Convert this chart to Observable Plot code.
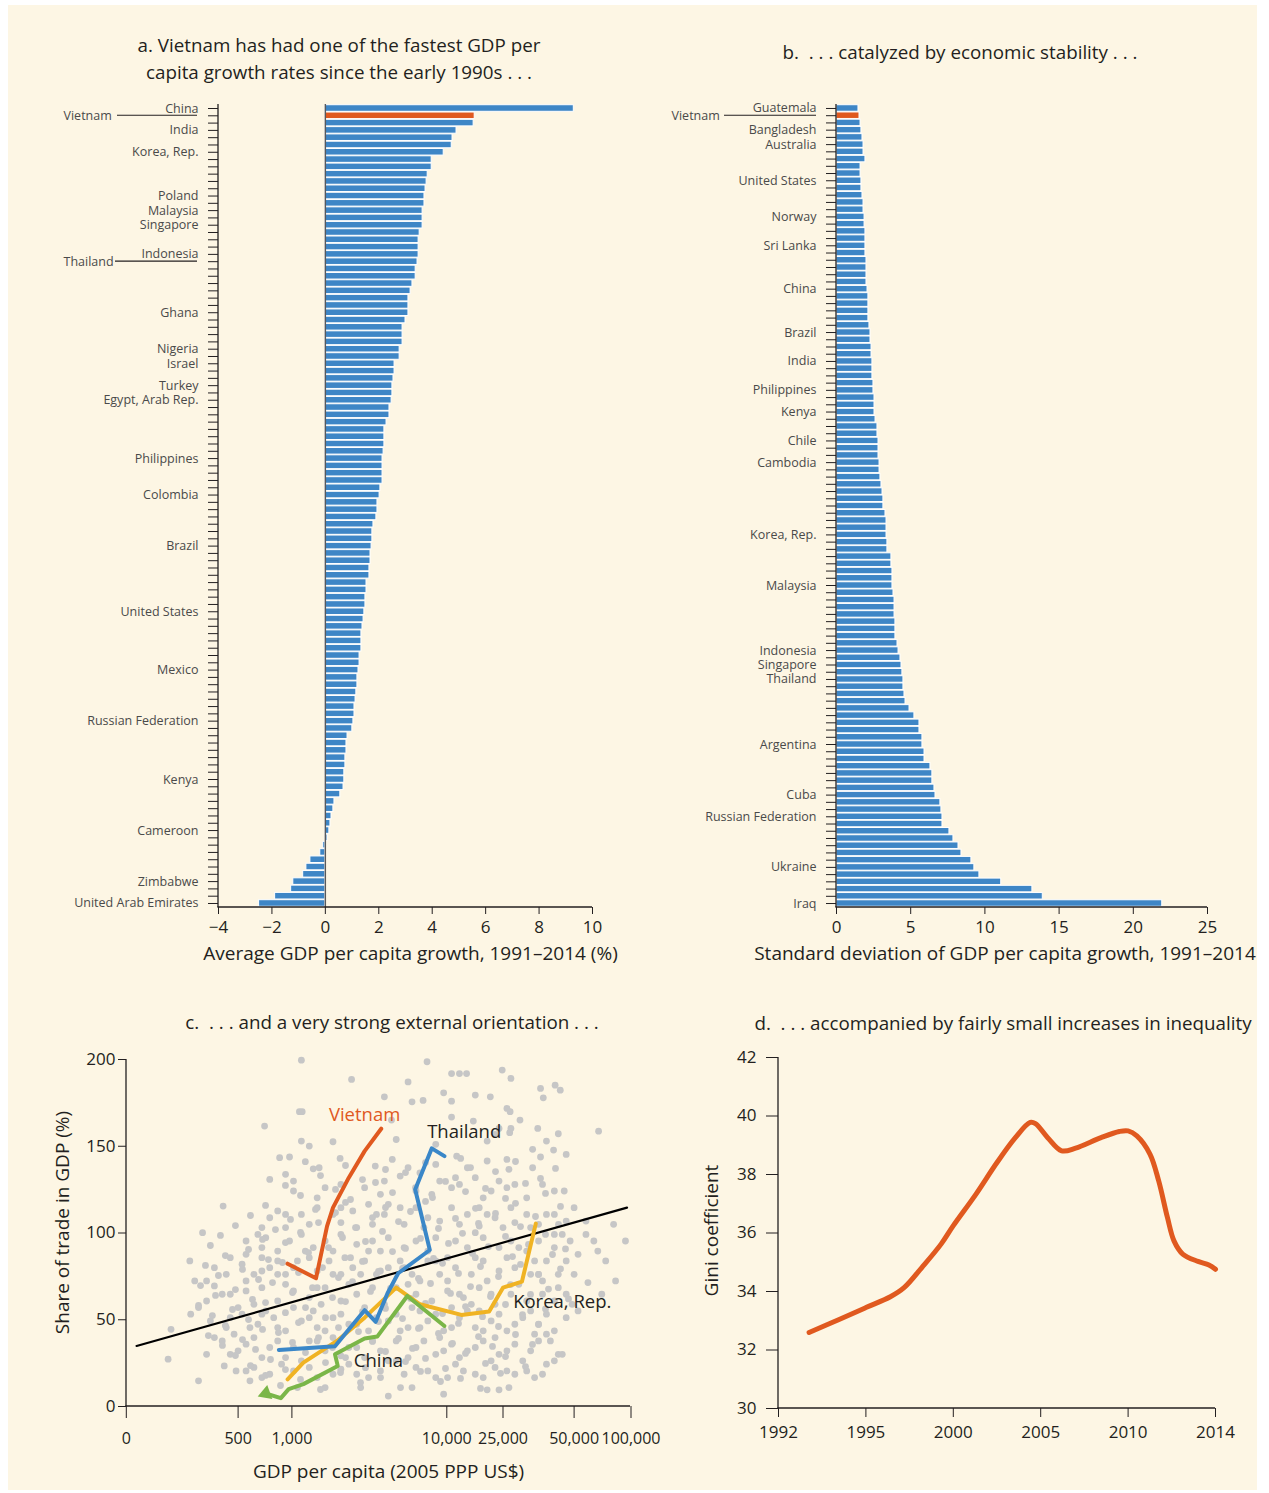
<!DOCTYPE html>
<html><head><meta charset="utf-8">
<script src="https://cdn.jsdelivr.net/npm/d3@7"></script>
<script src="https://cdn.jsdelivr.net/npm/@observablehq/plot@0.6"></script>
<style>
body{margin:0;background:#fff;font-family:"Open Sans",sans-serif;}
#page{position:relative;width:1269px;height:1493px;overflow:hidden;}
#bg{position:absolute;left:8px;top:5px;width:1249px;height:1485px;background:#fdf6e4;}
.title{position:absolute;text-align:center;font-size:18.8px;line-height:27px;color:#231f20;white-space:nowrap;}
.panel{position:absolute;}
.panel svg{overflow:visible;max-width:none;}
</style></head>
<body><div id="page"><div id="bg"></div>
<div class="title" style="left:89px;top:31.5px;width:500px">a. Vietnam has had one of the fastest GDP per<br>capita growth rates since the early 1990s . . .</div>
<div class="title" style="left:710px;top:38.5px;width:500px">b. &nbsp;. . . catalyzed by economic stability . . .</div>
<div class="title" style="left:142px;top:1008.5px;width:500px">c. &nbsp;. . . and a very strong external orientation . . .</div>
<div class="title" style="left:743px;top:1009.5px;width:520px">d. &nbsp;. . . accompanied by fairly small increases in inequality</div>
<div class="panel" id="pa" style="left:0px;top:90px"></div>
<div class="panel" id="pb" style="left:640px;top:90px"></div>
<div class="panel" id="pc" style="left:0px;top:1040px"></div>
<div class="panel" id="pd" style="left:640px;top:1040px"></div>
</div>
<script>
// ---------- DATA ----------
// Panel a: average GDP per capita growth 1991-2014 (%), 110 countries ranked
const growthCountries = ["China","Vietnam","","India","","","Korea, Rep.","","","","","","Poland","","Malaysia","","Singapore","","","","Indonesia","Thailand","","","","","","","Ghana","","","","","Nigeria","","Israel","","","Turkey","","Egypt, Arab Rep.","","","","","","","","Philippines","","","","","Colombia","","","","","","","Brazil","","","","","","","","","United States","","","","","","","","Mexico","","","","","","","Russian Federation","","","","","","","","Kenya","","","","","","","Cameroon","","","","","","","Zimbabwe","","","United Arab Emirates"];
const growthValues = [9.3,5.59,5.55,4.91,4.76,4.73,4.43,3.98,3.98,3.83,3.79,3.75,3.71,3.71,3.64,3.64,3.64,3.53,3.49,3.49,3.49,3.45,3.38,3.38,3.26,3.19,3.11,3.11,3.11,3.0,2.89,2.89,2.89,2.78,2.78,2.59,2.59,2.55,2.51,2.51,2.48,2.4,2.4,2.29,2.21,2.21,2.21,2.18,2.14,2.14,2.14,2.14,2.06,2.03,1.95,1.95,1.91,1.8,1.76,1.76,1.73,1.69,1.69,1.65,1.65,1.54,1.54,1.5,1.5,1.46,1.43,1.39,1.35,1.35,1.35,1.28,1.28,1.24,1.2,1.2,1.16,1.13,1.09,1.09,1.05,1.01,0.83,0.79,0.79,0.75,0.75,0.71,0.71,0.68,0.56,0.34,0.3,0.23,0.19,0.15,0.08,-0.08,-0.19,-0.56,-0.71,-0.83,-1.2,-1.28,-1.88,-2.48];
const growthTicks = [-4,-2,0,2,4,6,8,10];

// Panel b: standard deviation of GDP per capita growth 1991-2014, 111 countries ranked
const volCountries = ["Guatemala","Vietnam","","Bangladesh","","Australia","","","","","United States","","","","","Norway","","","","Sri Lanka","","","","","","China","","","","","","Brazil","","","","India","","","","Philippines","","","Kenya","","","","Chile","","","Cambodia","","","","","","","","","","Korea, Rep.","","","","","","","Malaysia","","","","","","","","","Indonesia","","Singapore","","Thailand","","","","","","","","","Argentina","","","","","","","Cuba","","","Russian Federation","","","","","","","Ukraine","","","","","Iraq"];
const volValues = [1.48,1.55,1.62,1.68,1.75,1.82,1.82,1.95,1.62,1.62,1.68,1.68,1.75,1.82,1.82,1.89,1.89,1.95,1.95,1.95,1.95,2.02,2.02,2.02,2.02,2.09,2.15,2.15,2.15,2.15,2.22,2.29,2.29,2.36,2.36,2.42,2.42,2.42,2.49,2.49,2.56,2.56,2.56,2.63,2.76,2.76,2.83,2.83,2.83,2.9,2.9,2.96,3.03,3.1,3.16,3.16,3.3,3.37,3.37,3.37,3.43,3.43,3.7,3.7,3.77,3.77,3.77,3.84,3.91,3.91,3.91,3.97,3.97,3.97,4.11,4.18,4.31,4.38,4.44,4.51,4.51,4.58,4.65,4.92,5.25,5.59,5.59,5.79,5.79,5.93,5.93,6.33,6.46,6.46,6.6,6.67,7.0,7.07,7.14,7.14,7.61,7.88,8.22,8.42,9.09,9.29,9.63,11.1,13.2,13.9,21.95];
const volTicks = [0,5,10,15,20,25];

// Panel c: trade share (% of GDP) vs GDP per capita (2005 PPP US$)
const gdpTicks = [0,500,1000,10000,25000,50000,100000];
const tradeTicks = [0,50,100,150,200];
// country-years: outer cloud
const scatterGdp = [
1551,8852,11267,13379,15280,24789,27778,4467,7750,
43334,45139,38194,9817,17603,21616,6373,39167,8622,7980,11267,26389,
1436,1597,27500,30972,6786,17075,11267,746,23939,37222,27778,
71527,44444,22883,27361,7061,1551,3388,2010,40278,35417,42778,20771,9357,
886,978,1781,3801,2240,2584,5844,6832,7750,12640,13696,20771,26389,27083,38194,47222,35417,15491,9357,8439,
941,1092,6373,7291,9587,11267,13379,17603,21827,23939,29167,38889,43056,46528,794,1092,2929,5225,6143,8209,19715,33333,2469,3847,26389,9128,
433,868,794,1551,2469,3388,4536,5454,6373,7291,8898,11267,15491,18659,22883,27778,33333,37500,43056,47222,60417,50000,84722,18659,7521,5684,3847,2010,941,721,8209,9587,29167,6602,
341,574,757,978,1551,2240,2929,3847,4766,5684,6602,7521,8209,9357,12323,15491,19715,23939,27778,33333,37500,43056,48611,60417,70833,95139,3388,6143,8898,17603,868,684,
284,306,537,647,794,941,1321,2469,3158,3847,4536,5225,5913,6602,7980,8898,9587,12323,16547,19715,23939,29167,34722,40278,44444,50000,62153,86458,447,394,868,2010,7291,10211,26389,37500,721,
465,574,721,868,1092,2010,2929,3847,4766,5684,6373,8209,9128,10211,14435,18659,22883,27778,33333,38889,44444,49306,359,323,7750,16547,30556,43056,647,941,4306,
200,288,376,447,537,684,831,941,1551,2469,3388,4306,5454,6602,7750,8898,9817,13379,17603,21827,26389,31944,37500,43056,47222,53472,8439,18659,34722,757,2240,
429,500,647,794,941,2010,2929,3847,4766,6143,7061,8209,9357,11267,15491,19715,23939,29167,34722,40278,41667,44444,9587,22883,
187,438,491,647,794,1092,2469,3847,4766,6143,7061,8209,9357,12323,17603,22883,29167,33333,38889,43056,45833,323,610,1321,2929,4995,7980,20771,23939,27083,6602,9817,
574,721,868,1092,1781,2469,3388,4077,4995,5454,6143,7061,7521,8439,9357,10211,13379,17603,20771,21827,25000,30556,36111,38889,43056,47222,53472,47222,
500,610,721,868,1092,2010,2699,2929,3847,4766,5225,5913,7061,7291,7980,8439,9357,11267,11267,15491,19715,23939,29167,36111,40278,
465,574,721,868,1092,1551,2469,3388,4306,5225,5684,6602,7750,8668,9817,13379,17603,21827,26389,31944,37500,
574,721,904,2010,3388,4306,5454,7521,8898,10211,14435,19715,26389,36111,40278,
721,574,465,394,429,359,465,394,359,482,
941,3847,4766,5913,8668,13379,20771,34722,40278,45833,67361,77778,74306];
const scatterTrade = [
199.6,198.7,191.9,191.9,191.9,193.9,189.1,188.5,187.1,
185.2,182.3,183.3,180.8,179.5,178.5,178.5,177.9,176.4,175.6,176,171.8,
169.9,169.9,169.9,165.1,165.1,164.5,166.8,161.6,160.3,160.3,160.3,
158.7,157.2,156.8,157.8,153.9,153,152.6,150.1,153,148.2,147.8,153,151.1,
143.4,143.8,141.1,143,137,137.6,138.6,142.4,137.6,144.3,143,141.5,142.4,136.7,143.8,145.3,137.6,137.6,139.5,134.7,
133.8,129.9,129.9,132.8,129.9,126.1,128,131.9,124.2,129.9,128,128,124.2,124.2,130.9,124.2,126.1,126.1,122.3,124.2,120.3,120.3,120.3,128,126.1,122.3,
115.5,112.7,108.8,110.7,114.6,110.7,112.7,116.5,110.7,114.6,108.8,114.6,110.7,114.6,108.8,114.6,110.7,105,110.7,106.9,106.9,114.6,105,104,105,105,106,105,103.1,103.1,114.6,106.9,106,116.5,
100.2,95.4,97.3,95.4,99.2,91.6,95.4,99.2,93.5,95.4,97.3,91.6,95.4,97.3,95.4,91.6,97.3,91.6,95.4,89.6,95.4,91.6,95.4,99.2,89.6,95.4,89.6,89.6,89.6,100.2,89.6,99.2,
83.9,72.4,82,76.2,80,76.2,83.9,78.1,83.9,76.2,80,83.9,76.2,80,76.2,83.9,76.2,80,76.2,83.9,78.1,80,76.2,83.9,76.2,76.2,71.4,72.4,76.2,69.5,83.9,85.8,83.9,85.8,85.8,76.2,85.8,
64.7,66.6,68.5,60.8,66.6,62.8,68.5,60.8,64.7,68.5,58.9,64.7,60.8,66.6,62.8,68.5,58.9,64.7,60.8,64.7,68.5,58.9,60.8,57,70.4,58.9,70.4,60.8,58.9,70.4,70.4,
44.5,53.2,49.3,45.5,53.2,47.4,51.2,43.6,49.3,45.5,51.2,47.4,43.6,49.3,45.5,49.3,43.6,51.2,45.5,49.3,43.6,51.2,47.4,43.6,51.2,55.1,55.1,55.1,55.1,55.1,55.1,
37.8,32.1,39.7,34,28.2,37.8,32.1,29.2,34,32.1,37.8,34,30.1,35.9,32.1,37.8,30.1,35.9,32.1,41.7,37.8,30.1,39.7,39.7,
27.3,23.4,20.5,22.5,18.6,20.5,16.7,21.5,18.6,20.5,26.3,22.5,16.7,24.4,18.6,22.5,18.6,20.5,18.6,26.3,30.1,14.8,14.8,10.9,10.9,10.9,10.9,9.6,9.6,10.9,6,7.1,
87.7,91.6,76.2,80,89.6,68.5,76.2,85.8,76.2,89.6,78.1,68.5,80,72.4,83.9,72.4,64.7,85.8,72.4,64.7,103.1,91.6,83.9,72.4,99.2,83.9,87.7,64.7,
57,45.5,53.2,45.5,57,51.2,58.9,43.6,53.2,47.4,57,51.2,53.2,43.6,57,45.5,53.2,57,45.5,55.1,43.6,53.2,47.4,41.7,53.2,
30.1,35.9,28.2,37.8,34,26.3,37.8,39.7,34,28.2,37.8,26.3,28.2,37.8,32.1,28.2,34,26.3,32.1,26.3,37.8,
20.5,16.7,24.4,22.5,18.6,24.4,16.7,18.6,20.5,16.7,20.5,16.7,20.5,16.7,24.4,
78.1,72.4,85.8,80,64.7,72.4,51.2,39.7,30.1,41.7,
110.7,114.6,103.1,110.7,103.1,105,110.7,103.1,110.7,99.2,95.4,83.9,64.7];
// country-years: dense core of the cloud
const coreGdp = [
4114,6438,8762,16326,29395,43459,
2662,5102,7600,12322,22998,38185,
940,3533,5857,8181,9924,20329,32911,
1500,4405,6845,9169,14991,25879,39943,
755,2371,4114,6438,8762,17660,29395,45217,
615,987,3533,5683,7891,12322,22998,36427,
488,847,2545,4695,7193,9517,18461,31153,44514,
421,727,1500,3940,6264,8472,14190,25879,39943,
376,597,940,3126,5276,7600,10454,21130,33966,46975,
443,782,1964,4405,6845,9227,16859,28340,42404,
354,541,912,2778,5102,7426,9750,18995,31153,45217,
412,690,1383,3707,6031,8355,13123,23799,37482,
332,488,820,2197,4521,6729,9053,16326,27637,40998,
399,634,1035,3359,5567,7891,10988,21664,34669,48030,
323,475,755,1790,4114,6438,8762,14991,25879,39943,
385,597,940,2952,5102,7426,9750,19528,31856,
443,727,1383,3707,6031,8355,13123,23799,37482,
367,541,875,2545,4869,7193,9517,18461,29395,
430,662,1035,3359,5683,8007,11521,22197,35372,
488,801,1790,4114,6438,8762,14991,25879,
615,940,2952,5276,7600,9924,20329,32911,
755,1500,3824,6148,8472,13657,24333,
894,2662,4986,7310,9634,18995];
const coreTrade = [
138.9,136.6,140.6,137.7,141.2,137.2,
133.1,130.8,134.8,131.9,135.4,131.4,
127.4,125.1,129.1,126.2,129.7,125.7,128.6,
121.6,119.3,123.3,120.4,123.9,119.9,122.8,
115.9,113.6,117.6,114.7,118.2,114.2,117.1,115.3,
110.1,107.8,111.8,108.9,112.4,108.4,111.3,109.5,
104.3,102,106,103.1,106.6,102.6,105.5,103.7,104.9,
98.6,96.3,100.3,97.4,100.9,96.9,99.8,98,99.2,
92.8,90.5,94.5,91.6,95.1,91.1,94,92.2,93.4,90.8,
87,84.7,88.7,85.8,89.3,85.3,88.2,86.4,87.6,
81.3,79,83,80.1,83.6,79.6,82.5,80.7,81.9,79.3,
75.5,73.2,77.2,74.3,77.8,73.8,76.7,74.9,76.1,
69.7,67.4,71.4,68.5,72,68,70.9,69.1,70.3,67.7,
64,61.7,65.7,62.8,66.3,62.3,65.2,63.4,64.6,62,
58.2,55.9,59.9,57,60.5,56.5,59.4,57.6,58.8,56.2,
52.4,50.1,54.1,51.2,54.7,50.7,53.6,51.8,53,
46.7,44.4,48.4,45.5,49,45,47.9,46.1,47.3,
40.9,38.6,42.6,39.7,43.2,39.2,42.1,40.3,41.5,
35.2,32.9,36.9,34,37.5,33.5,36.4,34.6,35.8,
29.4,27.1,31.1,28.2,31.7,27.7,30.6,28.8,
23.6,21.3,25.3,22.4,25.9,21.9,24.8,23,
17.9,15.6,19.6,16.7,20.2,16.2,19.1,
12.1,9.8,13.8,10.9,14.4,10.4];
const fitGdp = [46, 96500];
const fitTrade = [34.9, 114.6];
const vietnamGdp = [960,2400,3043,3388,4306,5225,6189];
const vietnamTrade = [82.3,73.9,104,114.6,131.9,147.2,160.1];
const thailandGdp = [879,3503,5225,5868,6556,7176,9013,8164,9128,9863];
const thailandTrade = [32.6,34.7,55.5,48.8,65.3,76.8,90.2,125.1,148.8,144.3];
const koreaGdp = [960,1666,3617,5225,7061,8439,13907,21299,25000,31667,36529];
const koreaTrade = [15.7,25.3,37.8,51.2,68.5,58.9,52.8,54.7,68.5,72,105.4];
const chinaGdp = [757,897,970,1666,3663,3503,5225,5959,7704,9863];
const chinaTrade = [7.5,4.8,10,12.9,23.4,30.1,39.2,40.3,63.7,46.4];
const seriesNames = ["Vietnam","Thailand","Korea, Rep.","China"];
const seriesLabelGdp = [5225,14646,45835,6028];
const seriesLabelTrade = [168,158.3,59.9,25.9];

// Panel d: Gini coefficient
const giniTicks = [1992,1995,2000,2005,2010,2014];
const giniYears = [1993.05,1994.1,1995.0,1996.4,1997.2,1998.2,1999.3,2000.0,2001.3,2002.5,2003.55,2004.4,2004.7,2005.4,2006.2,2007.0,2008.45,2009.5,2010.0,2010.4,2011.0,2011.4,2011.8,2012.1,2012.5,2013.2,2013.7,2014.0];
const giniValues = [32.6,33.05,33.45,33.82,34.14,34.82,35.62,36.25,37.33,38.41,39.26,39.78,39.74,39.26,38.81,38.9,39.26,39.47,39.49,39.32,38.7,37.78,36.53,35.73,35.28,35.03,34.91,34.76];
const giniAxisTicks = [30,32,34,36,38,40,42];

// ---------- STYLE ----------
const BLUE = "#3e86c6", ORANGE = "#e0591f", INK = "#231f20", LABEL = "#4a4a4a";
const GREEN = "#7ab648", YELLOW = "#f0b323", TBLUE = "#3a87c8";
const FONT = "Open Sans";
const SVGNS = "http://www.w3.org/2000/svg";
function svgLine(x1, y1, x2, y2, stroke, w) {
  const l = document.createElementNS(SVGNS, "line");
  l.setAttribute("x1", x1); l.setAttribute("y1", y1);
  l.setAttribute("x2", x2); l.setAttribute("y2", y2);
  l.setAttribute("stroke", stroke); l.setAttribute("stroke-width", w);
  return l;
}
const frameLines = (sides, w = 1.3) => (index, scales, values, dims) => {
  const {width, height, marginTop, marginRight, marginBottom, marginLeft} = dims;
  const g = document.createElementNS(SVGNS, "g");
  const L = marginLeft, R = width - marginRight, T = marginTop, B = height - marginBottom;
  if (sides.includes("left")) g.appendChild(svgLine(L, T, L, B, INK, w));
  if (sides.includes("bottom")) g.appendChild(svgLine(L - w / 2, B, R, B, INK, w));
  return g;
};
const leaders = (rows, from, to) => (index, scales, values, dims) => {
  const y = scales.y;
  const bw = typeof y.bandwidth === "function" ? y.bandwidth() : (y.bandwidth || 0);
  const g = document.createElementNS(SVGNS, "g");
  for (const r of rows) {
    const yy = y(r) + bw / 2;
    g.appendChild(svgLine(dims.marginLeft + from, yy, dims.marginLeft + to, yy, INK, 1.1));
  }
  return g;
};
const baseStyle = {background: "transparent", fontFamily: FONT, color: INK, overflow: "visible"};

// ---------- PANEL A ----------
{
  const data = growthValues.map((v, i) => ({i, v, name: growthCountries[i]}));
  const special = ["Vietnam", "Thailand"];
  const specialIdx = data.filter(d => special.includes(d.name)).map(d => d.i);
  const chart = Plot.plot({
    width: 635, height: 890,
    marginLeft: 218, marginRight: 43, marginTop: 14, marginBottom: 73,
    style: baseStyle,
    x: {domain: [-4, 10]},
    y: {type: "band", domain: data.map(d => d.i), padding: 0.1, round: false},
    marks: [
      Plot.barX(data.filter(d => d.name !== "Vietnam"), {x: "v", y: "i", fill: BLUE, stroke: "white", strokeWidth: 1}),
      Plot.barX(data.filter(d => d.name === "Vietnam"), {x: "v", y: "i", fill: ORANGE, stroke: "white", strokeWidth: 1}),
      Plot.ruleX([0], {stroke: "#58595b", strokeWidth: 1.4}),
      Plot.axisY(data.map(d => d.i), {tickSize: 10, tickPadding: 10, fontSize: 12.5, label: null, color: INK,
        tickFormat: i => special.includes(growthCountries[i]) ? "" : growthCountries[i], fill: LABEL}),
      Plot.axisX(growthTicks, {tickSize: 7, tickPadding: 6, fontSize: 17, label: null, color: INK}),
      frameLines(["left", "bottom"]),
      Plot.text(specialIdx, {y: d => d, text: d => growthCountries[d], frameAnchor: "left", dx: -155, textAnchor: "start", fontSize: 12.5, fill: LABEL}),
      leaders(specialIdx.filter(i => growthCountries[i] === "Vietnam"), -101, -21),
      leaders(specialIdx.filter(i => growthCountries[i] === "Thailand"), -103, -21),
      Plot.text(["Average GDP per capita growth, 1991–2014 (%)"], {text: d => d, frameAnchor: "bottom", textAnchor: "middle", dy: 52, dx: 5, fontSize: 19, fill: INK})
    ]
  });
  document.getElementById("pa").appendChild(chart);
}

// ---------- PANEL B ----------
{
  const data = volValues.map((v, i) => ({i, v, name: volCountries[i]}));
  const vIdx = data.filter(d => d.name === "Vietnam").map(d => d.i);
  const chart = Plot.plot({
    width: 629, height: 890,
    marginLeft: 196, marginRight: 62, marginTop: 14, marginBottom: 73,
    style: baseStyle,
    x: {domain: [0, 25]},
    y: {type: "band", domain: data.map(d => d.i), padding: 0.1, round: false},
    marks: [
      Plot.barX(data.filter(d => d.name !== "Vietnam"), {x: "v", y: "i", fill: BLUE, stroke: "white", strokeWidth: 1}),
      Plot.barX(data.filter(d => d.name === "Vietnam"), {x: "v", y: "i", fill: ORANGE, stroke: "white", strokeWidth: 1}),
      Plot.axisY(data.map(d => d.i), {tickSize: 10, tickPadding: 10, fontSize: 12.5, label: null, color: INK,
        tickFormat: i => volCountries[i] === "Vietnam" ? "" : volCountries[i], fill: LABEL}),
      Plot.axisX(volTicks, {tickSize: 7, tickPadding: 6, fontSize: 17, label: null, color: INK}),
      frameLines(["left", "bottom"]),
      Plot.text(vIdx, {y: d => d, text: d => volCountries[d], frameAnchor: "left", dx: -165, textAnchor: "start", fontSize: 12.5, fill: LABEL}),
      leaders(vIdx, -112, -20),
      Plot.text(["Standard deviation of GDP per capita growth, 1991–2014"], {text: d => d, frameAnchor: "bottom", textAnchor: "middle", dy: 52, dx: -17, fontSize: 19, fill: INK})
    ]
  });
  document.getElementById("pb").appendChild(chart);
}

// ---------- PANEL C ----------
{
  const pts = scatterGdp.map((g, i) => ({g, t: scatterTrade[i]}))
    .concat(coreGdp.map((g, i) => ({g, t: coreTrade[i]})));
  const ser = (gs, ts) => gs.map((g, i) => ({g, t: ts[i]}));
  const labels = seriesNames.map((name, i) => ({name, g: seriesLabelGdp[i], t: seriesLabelTrade[i]}));
  const china = ser(chinaGdp, chinaTrade);
  const chart = Plot.plot({
    width: 660, height: 450,
    marginLeft: 126, marginRight: 30, marginTop: 19, marginBottom: 84,
    style: baseStyle,
    x: {type: "linear", domain: gdpTicks, range: [125.8, 237.6, 291.4, 446.3, 502.5, 573.6, 630.5]},
    y: {domain: [0, 200]},
    marks: [
      Plot.dot(pts, {x: "g", y: "t", r: 3.4, fill: "#c6c6c6", stroke: "none"}),
      Plot.line(ser(fitGdp, fitTrade), {x: "g", y: "t", stroke: "#000", strokeWidth: 2.2}),
      Plot.line(ser(koreaGdp, koreaTrade), {x: "g", y: "t", stroke: YELLOW, strokeWidth: 4}),
      Plot.line(china, {x: "g", y: "t", stroke: GREEN, strokeWidth: 4}),
      Plot.dot(china.slice(0, 1), {x: "g", y: "t", symbol: "triangle", r: 5.5, fill: GREEN, rotate: -110}),
      Plot.line(ser(thailandGdp, thailandTrade), {x: "g", y: "t", stroke: TBLUE, strokeWidth: 4}),
      Plot.line(ser(vietnamGdp, vietnamTrade), {x: "g", y: "t", stroke: ORANGE, strokeWidth: 4}),
      Plot.text(labels, {x: "g", y: "t", text: "name", fill: d => d.name === "Vietnam" ? ORANGE : INK, fontSize: 18.5}),
      Plot.axisY(tradeTicks, {tickSize: 8, tickPadding: 3, fontSize: 17, label: null, color: INK}),
      Plot.axisX(gdpTicks, {tickSize: 12, tickPadding: 14, fontSize: 16, label: null, color: INK, tickFormat: d3.format(",")}),
      frameLines(["left", "bottom"]),
      Plot.text(["Share of trade in GDP (%)"], {text: d => d, frameAnchor: "left", textAnchor: "middle", dx: -64, dy: -10.5, rotate: -90, fontSize: 19, fill: INK}),
      Plot.text(["GDP per capita (2005 PPP US$)"], {text: d => d, frameAnchor: "bottom", textAnchor: "middle", dy: 71, dx: 10, fontSize: 19, fill: INK})
    ]
  });
  document.getElementById("pc").appendChild(chart);
}

// ---------- PANEL D ----------
{
  const data = giniYears.map((y, i) => ({y, g: giniValues[i]}));
  const chart = Plot.plot({
    width: 620, height: 450,
    marginLeft: 138, marginRight: 45, marginTop: 17, marginBottom: 82,
    style: baseStyle,
    x: {type: "linear", domain: giniTicks, range: [138, 225.4, 312.8, 400.2, 487.6, 575]},
    y: {domain: [30, 42]},
    marks: [
      Plot.line(data, {x: "y", y: "g", stroke: ORANGE, strokeWidth: 5, curve: "catmull-rom", strokeLinecap: "round"}),
      Plot.axisY(giniAxisTicks, {tickSize: 12, tickPadding: 10, fontSize: 17, label: null, color: INK}),
      Plot.axisX(giniTicks, {tickSize: 9, tickPadding: 8, fontSize: 17, label: null, color: INK, tickFormat: d => String(d)}),
      frameLines(["left", "bottom"]),
      Plot.text(["Gini coefficient"], {text: d => d, frameAnchor: "left", textAnchor: "middle", dx: -67, dy: -2.5, rotate: -90, fontSize: 19, fill: INK})
    ]
  });
  document.getElementById("pd").appendChild(chart);
}
</script>
</body></html>
